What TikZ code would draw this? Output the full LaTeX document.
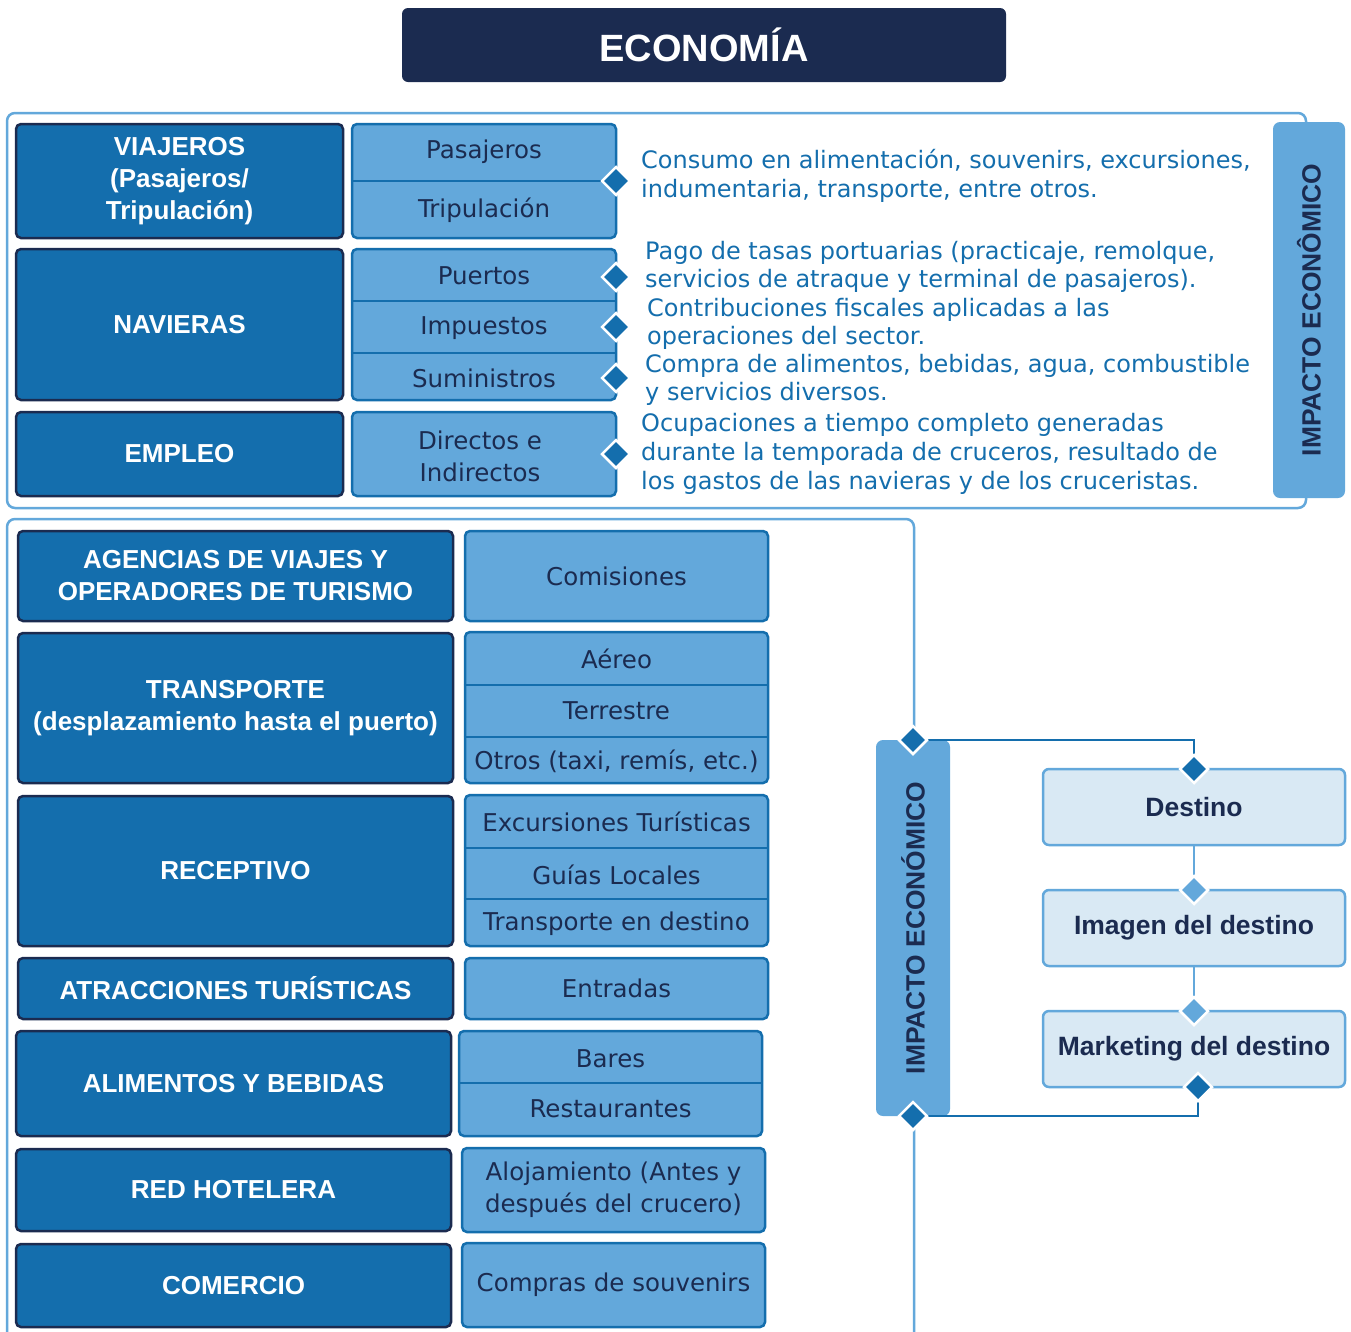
\documentclass[tikz,border=0pt]{standalone}
\usepackage{fontspec}
\setmainfont{DejaVu Sans}
\newfontfamily\bsans{Liberation Sans}
\usetikzlibrary{shapes.geometric}
\definecolor{navy}{HTML}{1B2B50}
\definecolor{dblue}{HTML}{146EAD}
\definecolor{mblue}{HTML}{63A8DB}
\definecolor{pale}{HTML}{D9E9F4}
\begin{document}
\begin{tikzpicture}[x=1pt,y=-1pt,
  catbox/.style={draw=navy, line width=2.5pt, fill=dblue, rounded corners=5pt, text=white, font=\fontsize{26}{32}\selectfont\bsans\bfseries, align=center, inner sep=0},
  subbox/.style={draw=dblue, line width=2.5pt, fill=mblue, rounded corners=5pt, inner sep=0},
  subtext/.style={text=navy, font=\fontsize{24.5}{32}\selectfont, align=center, inner sep=0},
  divline/.style={draw=dblue, line width=2.5pt},
  desc/.style={text=dblue, font=\fontsize{24}{29}\selectfont, align=left, anchor=west, inner sep=0},
  desc2/.style={desc, font=\fontsize{24}{27.5}\selectfont},
  dia/.style={diamond, aspect=1, minimum size=29pt, inner sep=0, fill=dblue, draw=white, line width=2.5pt},
  ldia/.style={dia, fill=mblue},
  frame/.style={draw=mblue, line width=2.5pt, rounded corners=8pt},
  vbox/.style={fill=mblue, rounded corners=7pt, rotate=90, text=navy, font=\fontsize{26.4}{30}\selectfont\bsans\bfseries, inner sep=0},
  destbox/.style={draw=mblue, fill=pale, line width=2.5pt, rounded corners=6pt, text=navy, font=\fontsize{26.5}{30}\selectfont\bsans\bfseries, minimum width=302pt, minimum height=76pt, inner sep=0},
  conn/.style={draw=dblue, line width=2.5pt},
  lconn/.style={draw=mblue, line width=2.5pt}
]
\useasboundingbox (0,0) rectangle (1351,1331);
\fill[white] (0,0) rectangle (1351,1331);

% title
\node[fill=navy, rounded corners=6pt, minimum width=604pt, minimum height=74pt, text=white, font=\fontsize{38}{44}\selectfont\bsans\bfseries, inner sep=0] (title) at (704,45) {ECONOMÍA};

% ===== top section =====
\draw[frame] (7,113) rectangle (1306,508);

\node[catbox, minimum width=327pt, minimum height=114pt] (viaj) at (179.5,181) {VIAJEROS\\(Pasajeros/\\Tripulación)};
\node[catbox, minimum width=327pt, minimum height=151pt] (nav) at (179.5,324.5) {NAVIERAS};
\node[catbox, minimum width=327pt, minimum height=84pt] (emp) at (179.5,454) {EMPLEO};

\node[subbox, minimum width=264pt, minimum height=114pt] (pt) at (484,181) {};
\draw[divline] (pt.west |- 0,181) -- (pt.east |- 0,181);
\node[subtext] (pas) at (484,152) {Pasajeros};
\node[subtext] (tri) at (484,210) {Tripulación};

\node[subbox, minimum width=264pt, minimum height=151pt] (pn) at (484,324.5) {};
\draw[divline] (pn.west |- 0,301) -- (pn.east |- 0,301);
\draw[divline] (pn.west |- 0,353) -- (pn.east |- 0,353);
\node[subtext] (pue) at (484,276) {Puertos};
\node[subtext] (imp) at (484,328) {Impuestos};
\node[subtext] (sum) at (484,378) {Suministros};

\node[subbox, minimum width=264pt, minimum height=84pt] (pe) at (484,454) {};
\node[subtext] (dir) at (480,456) {Directos e\\Indirectos};

\node[dia] (d1) at (616,181) {};
\node[dia] (d2) at (616,277) {};
\node[dia] (d3) at (616,327) {};
\node[dia] (d4) at (616,378) {};
\node[dia] (d5) at (616,454) {};

\node[desc] (t1) at (641,176) {Consumo en alimentación, souvenirs, excursiones,\\indumentaria, transporte, entre otros.};
\node[desc2] (t2) at (645,267) {Pago de tasas portuarias (practicaje, remolque,\\servicios de atraque y terminal de pasajeros).};
\node[desc2] (t3) at (647,324) {Contribuciones fiscales aplicadas a las\\operaciones del sector.};
\node[desc2] (t4) at (645,380) {Compra de alimentos, bebidas, agua, combustible\\y servicios diversos.};
\node[desc] (t5) at (641,454) {Ocupaciones a tiempo completo generadas\\durante la temporada de cruceros, resultado de\\los gastos de las navieras y de los cruceristas.};

\node[vbox, minimum width=376pt, minimum height=72pt] (imp1) at (1309,310) {IMPACTO ECONÔMICO};

% ===== bottom section =====
\draw[frame] (7,1360) -- (7,519) -- (914,519) -- (914,1360);

\node[catbox, minimum width=435pt, minimum height=90pt] (ag) at (235.5,576) {AGENCIAS DE VIAJES Y\\OPERADORES DE TURISMO};
\node[catbox, minimum width=435pt, minimum height=150pt] (tr) at (235.5,708) {TRANSPORTE\\(desplazamiento hasta el puerto)};
\node[catbox, minimum width=435pt, minimum height=150pt] (rc) at (235.5,871) {RECEPTIVO};
\node[catbox, minimum width=435pt, minimum height=61pt] (at) at (235.5,988.5) {ATRACCIONES TURÍSTICAS};
\node[catbox, minimum width=435pt, minimum height=105pt] (al) at (233.5,1083.5) {ALIMENTOS Y BEBIDAS};
\node[catbox, minimum width=435pt, minimum height=82pt] (rh) at (233.5,1190) {RED HOTELERA};
\node[catbox, minimum width=435pt, minimum height=83pt] (co) at (233.5,1285.5) {COMERCIO};

\node[subbox, minimum width=303pt, minimum height=90pt, subtext] (com) at (616.5,576) {Comisiones};

\node[subbox, minimum width=303pt, minimum height=151pt] (aer) at (616.5,707.5) {};
\draw[divline] (aer.west |- 0,685) -- (aer.east |- 0,685);
\draw[divline] (aer.west |- 0,737) -- (aer.east |- 0,737);
\node[subtext] (ae) at (616.5,659) {Aéreo};
\node[subtext] (te) at (616.5,711) {Terrestre};
\node[subtext] (ot) at (616.5,761) {Otros (taxi, remís, etc.)};

\node[subbox, minimum width=303pt, minimum height=151pt] (exc) at (616.5,870.5) {};
\draw[divline] (exc.west |- 0,848) -- (exc.east |- 0,848);
\draw[divline] (exc.west |- 0,899) -- (exc.east |- 0,899);
\node[subtext] (ex) at (616.5,822) {Excursiones Turísticas};
\node[subtext] (gu) at (616.5,875) {Guías Locales};
\node[subtext] (td) at (616.5,924) {Transporte en destino};

\node[subbox, minimum width=303pt, minimum height=61pt, subtext] (ent) at (616.5,988.5) {Entradas};

\node[subbox, minimum width=303pt, minimum height=105pt] (bar) at (610.5,1083.5) {};
\draw[divline] (bar.west |- 0,1083) -- (bar.east |- 0,1083);
\node[subtext] (ba) at (610.5,1059) {Bares};
\node[subtext] (re) at (610.5,1109) {Restaurantes};

\node[subbox, minimum width=303pt, minimum height=84pt, subtext] (aloj) at (613.5,1190) {Alojamiento (Antes y\\después del crucero)};
\node[subbox, minimum width=303pt, minimum height=84pt, subtext] (comp) at (613.5,1285) {Compras de souvenirs};

% right side
\node[vbox, minimum width=376pt, minimum height=74pt] (imp2) at (913,928) {IMPACTO ECONÓMICO};

\node[destbox] (dest) at (1194,807) {Destino};
\node[destbox] (imag) at (1194,928) {Imagen del destino};
\node[destbox] (mark) at (1194,1049) {Marketing del destino};

\coordinate (cA) at (913,740);
\coordinate (cB) at (1194,769);
\coordinate (cC) at (1194,890);
\coordinate (cD) at (1194,1011);
\coordinate (cE) at (1198,1087);
\coordinate (cF) at (913,1116);

\draw[conn] (cA) -| (cB);
\draw[lconn] (dest.south) -- (cC);
\draw[lconn] (imag.south) -- (cD);
\draw[conn] (cF) -| (cE);

\node[dia] (dA) at (cA) {};
\node[dia] (dB) at (cB) {};
\node[ldia] (dC) at (cC) {};
\node[ldia] (dD) at (cD) {};
\node[dia] (dE) at (cE) {};
\node[dia] (dF) at (cF) {};
\end{tikzpicture}
\end{document}
